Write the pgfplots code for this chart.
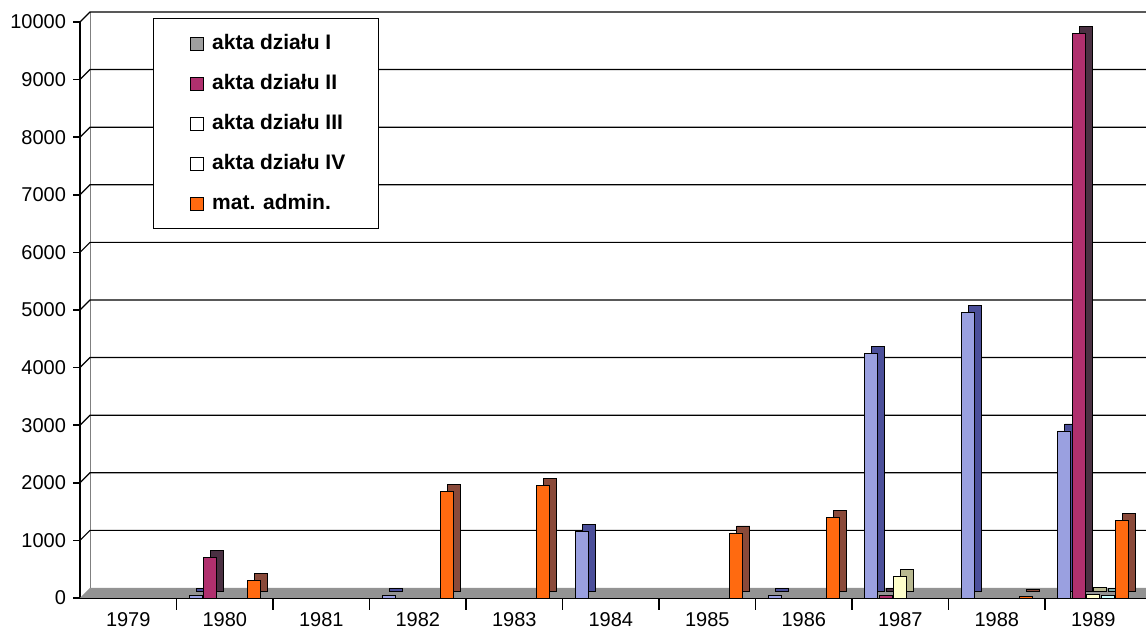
\documentclass[border=0pt]{standalone}
\usepackage{fontspec}
\setmainfont{Liberation Sans}
\usepackage{pgfplots}
\pgfplotsset{compat=1.18}
\definecolor{cI}{HTML}{9AA0E0}
\definecolor{sI}{HTML}{4B4F9A}
\definecolor{cII}{HTML}{B0306E}
\definecolor{sII}{HTML}{4A3042}
\definecolor{cIII}{HTML}{FFFFCC}
\definecolor{sIII}{HTML}{B8B890}
\definecolor{cIV}{HTML}{CCFFFF}
\definecolor{sIV}{HTML}{7FAFAF}
\definecolor{cV}{HTML}{FF6A10}
\definecolor{sV}{HTML}{8A4A3A}
\begin{document}
\begin{tikzpicture}
\begin{axis}[
  at={(0,0)}, anchor=south west,
  scale only axis, width=535.6pt, height=288pt,
  xmin=-0.5, xmax=10.6, ymin=0, ymax=10000,
  clip=false,
  axis x line=bottom, axis y line=left,
  axis line style={-, line width=0.8pt},
  xtick={0,...,10},
  xticklabels={1979,1980,1981,1982,1983,1984,1985,1986,1987,1988,1989},
  minor xtick={0.5,1.5,...,9.5},
  major x tick style={draw=none},
  minor x tick style={line width=0.8pt, black},
  minor tick length=6pt,
  ytick={0,1000,...,10000},
  scaled y ticks=false,
  y tick style={line width=0.8pt, black},
  tick align=outside, major tick length=3.5pt,
  tick label style={font=\fontsize{10}{12}\selectfont},
  yticklabel style={/pgf/number format/1000 sep={}},
  /pgf/number format/assume math mode=true,
  legend style={at={(0.068,1.007)}, anchor=north west, draw=black, line width=0.6pt,
    font=\fontsize{10.5}{12}\selectfont\bfseries, inner xsep=14.5pt, inner ysep=6pt,
    row sep=6.9pt},
  legend cell align=left,
  legend image code/.code={\path (0pt,0pt) (12.5pt,0pt); \draw[#1, line width=0.4pt] (4pt,-3.25pt) rectangle (10.5pt,3.25pt);},
]
% floor
\fill[gray!85] (axis cs:-0.5,0) -- (axis cs:10.6,0) -- ++(5pt,5pt) -- ([shift={(5pt,5pt)}]axis cs:-0.5,0) -- cycle;
% back wall left edge
\draw[gray, line width=0.5pt] ([shift={(5pt,5pt)}]axis cs:-0.5,0) -- ([shift={(5pt,5pt)}]axis cs:-0.5,10000);
% gridlines on back wall
\pgfplotsinvokeforeach{1000,2000,...,10000}{
  \draw[black, line width=0.6pt] (axis cs:-0.5,#1) -- ++(5pt,5pt) -- ([shift={(5pt,5pt)}]axis cs:10.6,#1);
}
% series I
\addplot[ybar, bar width=6.5pt, bar shift=-11pt, yshift=3.5pt, fill=sI, draw=black, line width=0.4pt, forget plot]
  coordinates {(1,40) (3,40) (5,1150) (7,40) (8,4250) (9,4950) (10,2900)};
\addplot[ybar, bar width=6.5pt, bar shift=-14.5pt, fill=cI, draw=black, line width=0.4pt,
  legend image code/.code={\path (0pt,0pt) (12.5pt,0pt); \draw[fill=gray!75, draw=black, line width=0.4pt] (4pt,-3.25pt) rectangle (10.5pt,3.25pt);}]
  coordinates {(1,40) (3,40) (5,1150) (7,40) (8,4250) (9,4950) (10,2900)};
\addlegendentry{akta działu I}
% series II
\addplot[ybar, bar width=6.5pt, bar shift=-3.75pt, yshift=3.5pt, fill=sII, draw=black, line width=0.4pt, forget plot]
  coordinates {(1,700) (8,40) (10,9800)};
\addplot[ybar, bar width=6.5pt, bar shift=-7.25pt, fill=cII, draw=black, line width=0.4pt]
  coordinates {(1,700) (8,40) (10,9800)};
\addlegendentry{akta działu II}
% series III
\addplot[ybar, bar width=6.5pt, bar shift=3.5pt, yshift=3.5pt, fill=sIII, draw=black, line width=0.4pt, forget plot]
  coordinates {(8,380) (10,60)};
\addplot[ybar, bar width=6.5pt, bar shift=0pt, fill=cIII, draw=black, line width=0.4pt,
  legend image code/.code={\path (0pt,0pt) (12.5pt,0pt); \draw[fill=white, draw=black, line width=0.4pt] (4pt,-3.25pt) rectangle (10.5pt,3.25pt);}]
  coordinates {(8,380) (10,60)};
\addlegendentry{akta działu III}
% series IV
\addplot[ybar, bar width=6.5pt, bar shift=10.75pt, yshift=3.5pt, fill=sIV, draw=black, line width=0.4pt, forget plot]
  coordinates {(10,50)};
\addplot[ybar, bar width=6.5pt, bar shift=7.25pt, fill=cIV, draw=black, line width=0.4pt,
  legend image code/.code={\path (0pt,0pt) (12.5pt,0pt); \draw[fill=white, draw=black, line width=0.4pt] (4pt,-3.25pt) rectangle (10.5pt,3.25pt);}]
  coordinates {(10,50)};
\addlegendentry{akta działu IV}
% series V
\addplot[ybar, bar width=6.5pt, bar shift=18pt, yshift=3.5pt, fill=sV, draw=black, line width=0.4pt, forget plot]
  coordinates {(1,300) (3,1850) (4,1950) (6,1130) (7,1400) (9,30) (10,1350)};
\addplot[ybar, bar width=6.5pt, bar shift=14.5pt, fill=cV, draw=black, line width=0.4pt]
  coordinates {(1,300) (3,1850) (4,1950) (6,1130) (7,1400) (9,30) (10,1350)};
\addlegendentry{mat. admin.}
\end{axis}
\pgfresetboundingbox
\path (-40pt,-18.5pt) rectangle (533pt,299pt);
\end{tikzpicture}
\end{document}
